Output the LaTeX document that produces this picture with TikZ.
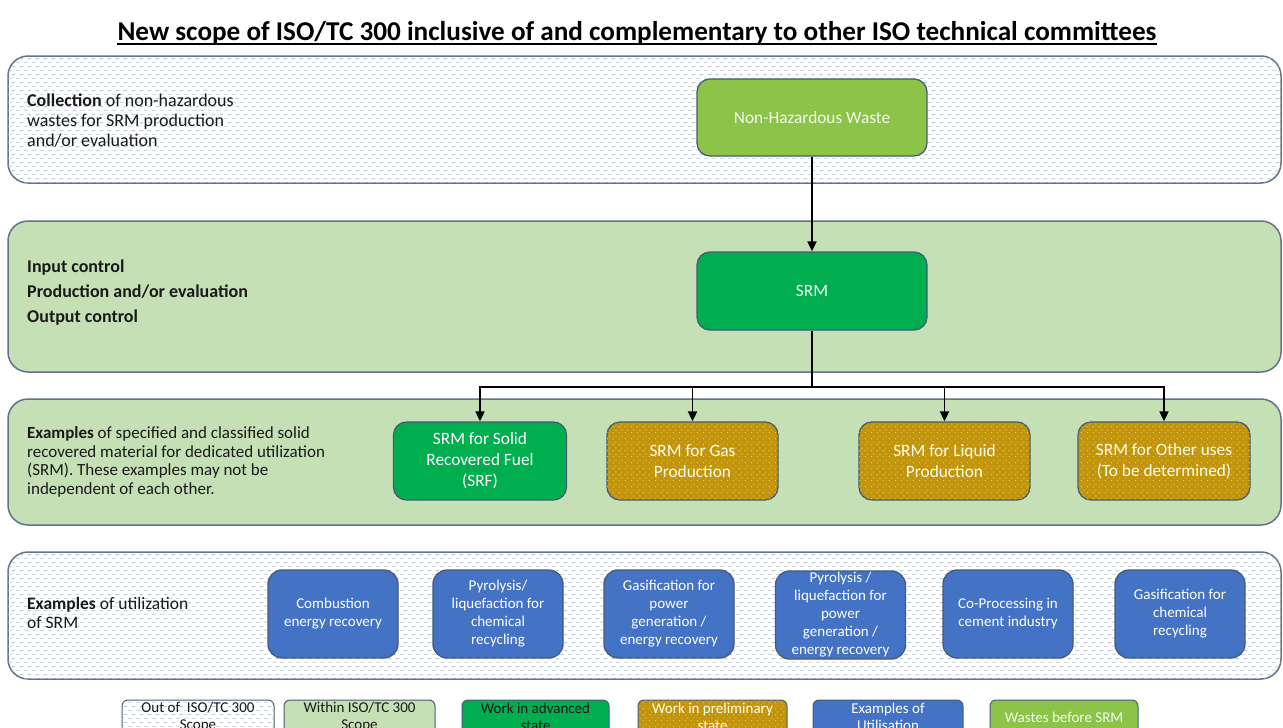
\documentclass[tikz,border=0pt]{standalone}
\usepackage{fontspec}
\setmainfont{Carlito}
\usetikzlibrary{arrows.meta,patterns}

\definecolor{bandline}{RGB}{96,114,140}
\definecolor{boxline}{RGB}{70,92,120}
\definecolor{paleg}{RGB}{197,224,180}
\definecolor{leafg}{RGB}{140,196,74}
\definecolor{srmg}{RGB}{0,174,80}
\definecolor{gold}{RGB}{194,148,12}
\definecolor{ublue}{RGB}{68,114,196}
\definecolor{dashc}{RGB}{190,200,216}
\definecolor{dotc}{RGB}{232,205,120}
\definecolor{ink}{RGB}{25,25,25}

% staggered horizontal dashes
\pgfdeclarepatternformonly{hdash}{\pgfpointorigin}{\pgfpoint{8pt}{8pt}}{\pgfpoint{8pt}{8pt}}{%
  \pgfsetlinewidth{0.9pt}%
  \pgfpathmoveto{\pgfpoint{0pt}{2pt}}\pgfpathlineto{\pgfpoint{4.5pt}{2pt}}%
  \pgfpathmoveto{\pgfpoint{4pt}{6pt}}\pgfpathlineto{\pgfpoint{8pt}{6pt}}%
  \pgfusepath{stroke}}
% small staggered dots
\pgfdeclarepatternformonly{gdots}{\pgfpointorigin}{\pgfpoint{6pt}{6pt}}{\pgfpoint{6pt}{6pt}}{%
  \pgfpathcircle{\pgfpoint{1.5pt}{1.5pt}}{0.7pt}%
  \pgfpathcircle{\pgfpoint{4.5pt}{4.5pt}}{0.7pt}%
  \pgfusepath{fill}}

\newcommand\setfs[2]{\fontsize{#1}{#2}\selectfont}

\begin{document}
\begin{tikzpicture}[x=1pt,y=-1pt,
  layer/.style={draw=bandline, line width=1.5pt, rounded corners=20pt, minimum width=1273pt, inner sep=0pt},
  plainlayer/.style={layer, fill=white, postaction={pattern=hdash, pattern color=dashc}},
  scopelayer/.style={layer, fill=paleg},
  lbl/.style={anchor=west, align=left, text=ink, inner sep=0pt, font=\setfs{18}{20}},
  stagebox/.style={draw=boxline, line width=1.3pt, rounded corners=13pt, align=center, text=white, inner sep=0pt, font=\setfs{17.3}{21}},
  goldbox/.style={stagebox, fill=gold, postaction={pattern=gdots, pattern color=dotc}, text=white!92!yellow},
  usebox/.style={stagebox, fill=ublue, rounded corners=14pt, minimum width=130pt, minimum height=88pt, font=\setfs{15}{18}},
  legendbox/.style={draw=boxline, line width=1pt, rounded corners=6pt, minimum height=34pt, inner sep=0pt, align=center, font=\setfs{15}{17}},
  conn/.style={line width=1.8pt, -{Triangle[length=10pt,width=9pt]}},
  trunk/.style={line width=1.8pt},
]
\useasboundingbox (0,0) rectangle (1283,728);
\fill[white] (0,0) rectangle (1283,728);
\clip (0,0) rectangle (1283,728);

% title
\node[anchor=base, inner sep=0pt, text=black, font=\bfseries\setfs{27.2}{30}] (title) at (637,40)
  {New scope of ISO/TC 300 inclusive of and complementary to other ISO technical committees};
\draw[line width=1.6pt] ([yshift=-4pt]title.base west) -- ([yshift=-4pt]title.base east);

% bands
\node[plainlayer, minimum height=127pt] (b1) at (644.5,119.5) {};
\node[scopelayer, minimum height=151pt] (b2) at (644.5,296.5) {};
\node[scopelayer, minimum height=126pt] (b3) at (644.5,462) {};
\node[plainlayer, minimum height=127pt] (b4) at (644.5,615.5) {};

% band captions
\node[lbl] (t1) at (27,121) {\textbf{Collection} of non-hazardous\\wastes for SRM production\\and/or evaluation};
\node[lbl, font=\bfseries\setfs{18}{25}] (t2) at (27,293) {Input control\\Production and/or evaluation\\Output control};
\node[lbl, font=\setfs{17}{18.5}] (t3) at (27,462) {\textbf{Examples} of specified and classified solid\\recovered material for dedicated utilization\\(SRM). These examples may not be\\independent of each other.};
\node[lbl, font=\setfs{17.5}{19}] (t4) at (27,613) {\textbf{Examples} of utilization\\of SRM};

% process boxes
\node[stagebox, fill=leafg, text=white!90!leafg, minimum width=230pt, minimum height=77pt] (nhw) at (812,117.5) {Non-Hazardous Waste};
\node[stagebox, fill=srmg, minimum width=230pt, minimum height=78pt] (srm) at (812,291) {SRM};
\node[stagebox, fill=srmg, minimum width=173pt, minimum height=78pt] (srf) at (480,461) {SRM for Solid\\Recovered Fuel\\(SRF)};
\node[goldbox, minimum width=171pt, minimum height=78pt] (gas) at (692.5,461) {SRM for Gas\\Production};
\node[goldbox, minimum width=171pt, minimum height=78pt] (liq) at (944.5,461) {SRM for Liquid\\Production};
\node[goldbox, minimum width=172pt, minimum height=78pt] (oth) at (1164,461) {SRM for Other uses\\(To be determined)};

% connectors
\coordinate (fork) at (812,387);
\draw[conn] (nhw) -- (srm);
\draw[trunk] (srm) -- (fork);
\foreach \n in {srf,gas,liq,oth} \draw[conn] (fork) -| (\n.north);

% utilisation examples
\node[usebox] (u1) at (333,614) {Combustion\\energy recovery};
\node[usebox] (u2) at (498,614) {Pyrolysis/\\liquefaction for\\chemical\\recycling};
\node[usebox] (u3) at (669,614) {Gasification for\\power\\generation /\\energy recovery};
\node[usebox] (u4) at (840.5,615) {Pyrolysis /\\liquefaction for\\power\\generation /\\energy recovery};
\node[usebox] (u5) at (1008,614) {Co-Processing in\\cement industry};
\node[usebox] (u6) at (1180,614) {Gasification for\\chemical\\recycling};

% legend
\node[legendbox, fill=white, postaction={pattern=hdash, pattern color=dashc}, minimum width=152pt, text=ink] (k1) at (198,717) {Out of ~ISO/TC 300\\Scope};
\node[legendbox, fill=paleg, minimum width=151pt, text=ink] (k2) at (359.5,717) {Within ISO/TC 300\\Scope};
\node[legendbox, fill=srmg, minimum width=147pt, text=ink] (k3) at (535.5,717) {Work in advanced\\state};
\node[legendbox, fill=gold, postaction={pattern=gdots, pattern color=dotc}, minimum width=149pt, text=white!92!yellow] (k4) at (712.5,717) {Work in preliminary\\state};
\node[legendbox, fill=ublue, minimum width=150pt, text=white] (k5) at (888,717) {Examples of\\Utilisation};
\node[legendbox, fill=leafg, minimum width=148pt, text=white!90!leafg] (k6) at (1064,717) {Wastes before SRM};
\end{tikzpicture}
\end{document}
